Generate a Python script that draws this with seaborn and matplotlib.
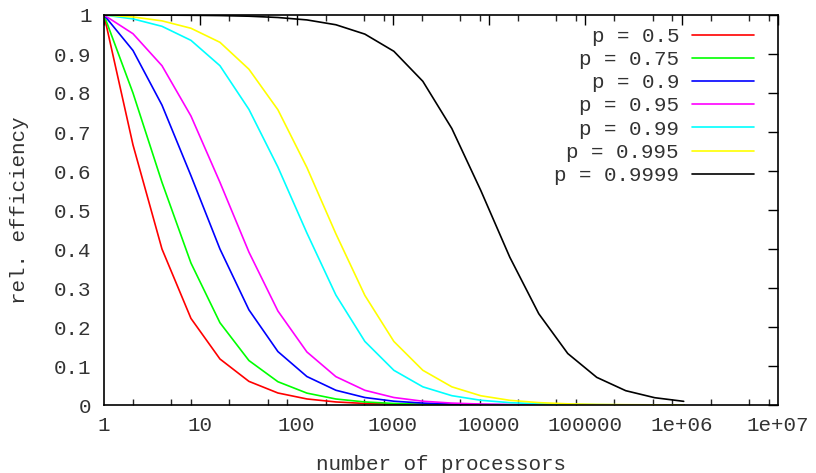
import matplotlib
matplotlib.use("Agg")
import matplotlib.pyplot as plt
import matplotlib.ticker as mticker
import seaborn as sns
import pandas as pd

processors = [1, 2, 4, 8, 16, 32, 64, 128, 256, 512, 1024, 2048, 4096, 8192,
              16384, 32768, 65536, 131072, 262144, 524288, 1048576]

eff_050 = [1.0, 0.667, 0.400, 0.222, 0.118, 0.0606, 0.0308, 0.0155, 0.0078, 0.0039,
           0.00195, 0.00098, 0.00049, 0.00024, 0.00012, 0.00006, 0.00003, 0.000015,
           0.0000076, 0.0000038, 0.0000019]
eff_075 = [1.0, 0.800, 0.571, 0.364, 0.211, 0.114, 0.0597, 0.0305, 0.0154, 0.0078,
           0.0039, 0.00195, 0.00098, 0.00049, 0.00024, 0.00012, 0.00006, 0.00003,
           0.000015, 0.0000076, 0.0000038]
eff_090 = [1.0, 0.909, 0.769, 0.588, 0.400, 0.244, 0.137, 0.073, 0.0378, 0.0192,
           0.0097, 0.0049, 0.0024, 0.0012, 0.0006, 0.0003, 0.00015, 0.000076,
           0.000038, 0.000019, 0.0000095]
eff_095 = [1.0, 0.952, 0.870, 0.741, 0.571, 0.392, 0.241, 0.136, 0.0727, 0.0377,
           0.0192, 0.0097, 0.0049, 0.0024, 0.0012, 0.0006, 0.0003, 0.00015,
           0.000076, 0.000038, 0.000019]
eff_099 = [1.0, 0.990, 0.971, 0.935, 0.870, 0.758, 0.610, 0.441, 0.282, 0.163,
           0.089, 0.0466, 0.0239, 0.0121, 0.0060, 0.0030, 0.0015, 0.00076,
           0.00038, 0.00019, 0.000095]
eff_0995 = [1.0, 0.995, 0.985, 0.966, 0.930, 0.861, 0.757, 0.609, 0.439, 0.281,
            0.163, 0.089, 0.0466, 0.0237, 0.0120, 0.0061, 0.0030, 0.0015,
            0.00076, 0.00038, 0.00019]
eff_09999 = [1.0, 1.0, 0.9997, 0.9993, 0.9985, 0.9969, 0.9936, 0.9874, 0.975, 0.951,
             0.907, 0.830, 0.709, 0.550, 0.379, 0.234, 0.132, 0.0709,
             0.0367, 0.0187, 0.0094]

labels = ["p = 0.5", "p = 0.75", "p = 0.9", "p = 0.95", "p = 0.99", "p = 0.995", "p = 0.9999"]
series = [eff_050, eff_075, eff_090, eff_095, eff_099, eff_0995, eff_09999]
colors = ["#ff0000", "#00ff00", "#0000ff", "#ff00ff", "#00ffff", "#ffff00", "#000000"]

x_ticks = [1, 10, 100, 1000, 10000, 100000, 1000000, 10000000]
x_tick_labels = ["1", "10", "100", "1000", "10000", "100000", "1e+06", "1e+07"]
y_ticks = [0, 0.1, 0.2, 0.3, 0.4, 0.5, 0.6, 0.7, 0.8, 0.9, 1]
y_tick_labels = ["0", "0.1", "0.2", "0.3", "0.4", "0.5", "0.6", "0.7", "0.8", "0.9", "1"]

rows = []
for lab, vals in zip(labels, series):
    for n, v in zip(processors, vals):
        rows.append({"N": n, "eff": v, "series": lab})
df = pd.DataFrame(rows)

sns.set_theme(style="white")
plt.rcParams["font.family"] = ["Liberation Mono", "DejaVu Sans"]
FS = 15

fig = plt.figure(figsize=(8.16, 4.73), dpi=100)
ax = fig.add_axes([104/816, 1 - 405/473, (778-104)/816, (405-15)/473])

sns.lineplot(data=df, x="N", y="eff", hue="series", hue_order=labels,
             palette=colors, linewidth=1.2, ax=ax, legend=True)

ax.set_xscale("log")
ax.set_xlim(1, 1e7)
ax.set_ylim(0, 1)
ax.set_xticks(x_ticks)
ax.set_xticklabels(x_tick_labels)
ax.xaxis.set_minor_locator(mticker.LogLocator(base=10, subs=[2, 5, 8], numticks=20))
ax.xaxis.set_minor_formatter(mticker.NullFormatter())
ax.set_yticks(y_ticks)
ax.set_yticklabels(y_tick_labels)

ax.tick_params(axis="both", which="major", direction="in", length=7, width=1,
               top=True, right=True, labelsize=FS, colors="#000000",
               labelcolor="#333333", pad=9)
ax.tick_params(axis="x", which="minor", direction="in", length=4, width=1,
               top=True, bottom=True)
ax.tick_params(axis="x", which="major", pad=8)
for s in ax.spines.values():
    s.set_color("black")
    s.set_linewidth(1.2)

ax.set_xlabel("number of processors", fontsize=FS, color="#333333", labelpad=14)
ax.set_ylabel("rel. efficiency", fontsize=FS, color="#333333", labelpad=18)

leg = ax.legend(loc="upper right", bbox_to_anchor=(754/816, 1 - 27/473),
                bbox_transform=fig.transFigure, frameon=False, markerfirst=False,
                fontsize=FS, handlelength=3.0, handletextpad=0.6,
                labelspacing=0.2, borderpad=0, borderaxespad=0)
for t in leg.get_texts():
    t.set_color("#333333")
    t.set_ha("right")
for h in leg.get_lines():
    h.set_linewidth(1.2)

fig.savefig("out.png", dpi=100)
